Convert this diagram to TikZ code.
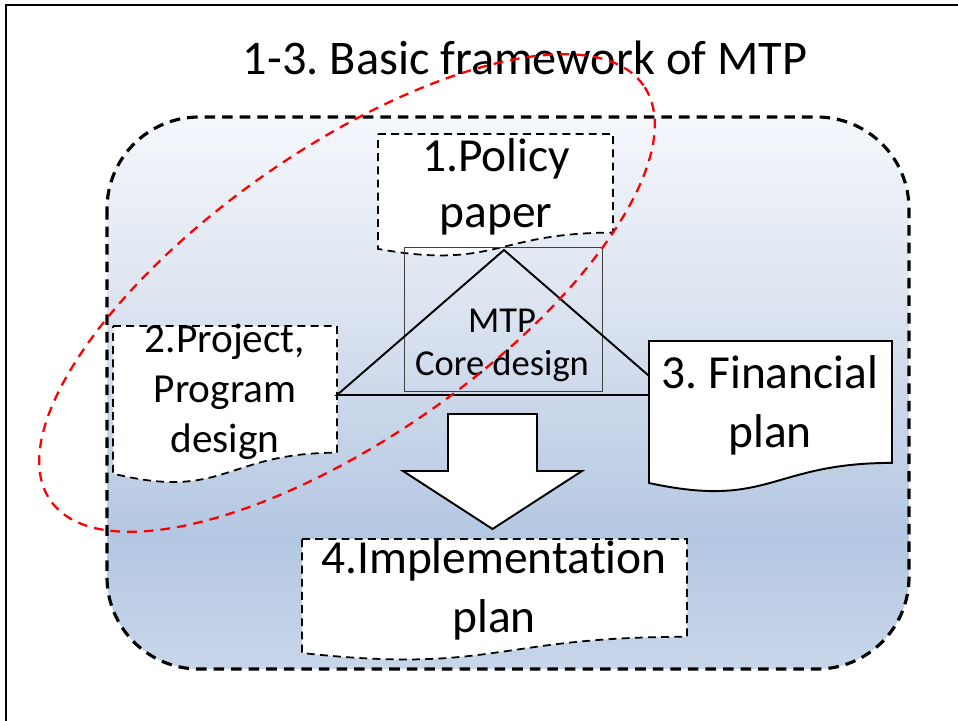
\documentclass[tikz,border=0pt]{standalone}
\usepackage{fontspec}
\setmainfont{Carlito}[Ligatures=NoCommon]
\frenchspacing
\definecolor{fadetop}{HTML}{F4F7FB}
\definecolor{fademid}{HTML}{DCE4F0}
\definecolor{fadelow}{HTML}{B4C7E2}
\definecolor{fadebot}{HTML}{C8D6EA}
\pgfdeclareverticalshading{mtpfade}{100bp}{color(0bp)=(fadebot); color(25bp)=(fadebot); color(37bp)=(fadelow); color(58bp)=(fademid); color(75bp)=(fadetop); color(100bp)=(fadetop)}
\begin{document}
\begin{tikzpicture}[x=0.02cm,y=-0.02cm]
\tikzstyle{frame}=[draw, line width=1.4pt]
\tikzstyle{outerbox}=[draw, line width=1.8pt, dash pattern=on 6pt off 4pt, rounded corners=1.84cm, shading=mtpfade]
\tikzstyle{docbox}=[draw, fill=white, line width=1pt, dash pattern=on 4.5pt off 3pt]
\tikzstyle{docsolid}=[draw, fill=white, line width=1.1pt]
\tikzstyle{bigtext}=[align=center, anchor=base, font=\fontsize{27}{31.5}\selectfont]
\useasboundingbox (0,0) rectangle (958,721);

\draw[outerbox] (107,117) rectangle (909,669);
\draw[frame] (6,721) -- (6,5) -- (958,5);
\node[anchor=base, font=\fontsize{27.5}{32}\selectfont] (title) at (525,74) {1-3. Basic framework of MTP};

% 1. policy paper
\draw[docbox] (378,134) -- (613,134) -- (613,232.6) .. controls (495.5,232.6) and (495.5,270.2) .. (378,248.9) -- cycle;
\node[bigtext] (policy) at (496,227) {1.Policy\\paper};

% 2. project
\draw[docbox] (113,326) -- (337,326) -- (337,452.7) .. controls (225,452.7) and (225,501) .. (113,473.6) -- cycle;
\node[bigtext, font=\fontsize{23.5}{28.3}\selectfont] (project) at (225,452) {2.Project,\\Program\\design};

% core
\draw[draw=black!75, line width=0.5pt] (404,247) rectangle (602,391);
\coordinate (apex) at (504,250);
\coordinate (baseL) at (337,395);
\coordinate (baseR) at (671,395);
\draw[line width=1.1pt] (baseL) -- (apex) -- (baseR) -- cycle;
\node[bigtext, font=\fontsize{20.8}{24.4}\selectfont] (core) at (502,375) {MTP\\Core design};

% 3. financial
\draw[docsolid] (649,341) -- (892,341) -- (892,462.9) .. controls (770.5,462.9) and (770.5,509.3) .. (649,483) -- cycle;
\node[bigtext, font=\fontsize{27}{33.5}\selectfont] (financial) at (770,447) {3. Financial\\plan};

% arrow
\draw[fill=white, line width=1.1pt] (448,414) -- (537,414) -- (537,471) -- (582,471) -- (492.5,529) -- (403,471) -- (448,471) -- cycle;

% 4. implementation
\draw[docbox] (302,539) -- (687,539) -- (687,636.8) .. controls (494.5,636.8) and (494.5,674.1) .. (302,653) -- cycle;
\node[bigtext, font=\fontsize{27}{33.5}\selectfont] (implementation) at (494,632) {4.Implementation\\plan};

\draw[red, line width=1.3pt, dash pattern=on 5.5pt off 4pt, rotate around={35:(347,293)}] (347,293) ellipse [x radius=7.24cm, y radius=2.88cm];
\end{tikzpicture}
\end{document}
